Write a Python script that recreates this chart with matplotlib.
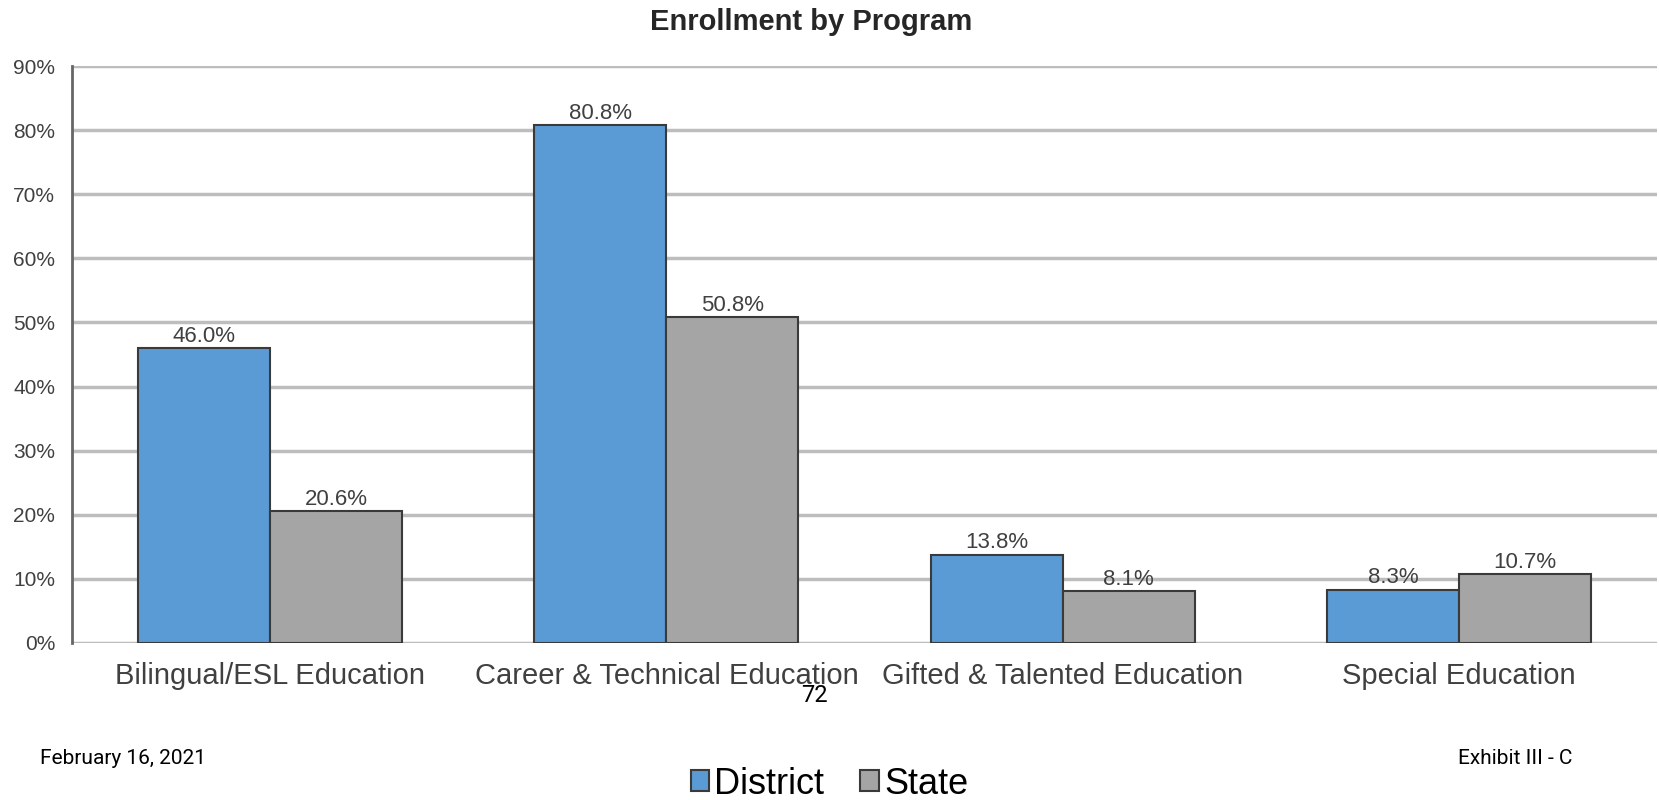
import numpy as np
import matplotlib as mpl
mpl.rcParams.update({'font.family': ['Liberation Sans', 'DejaVu Sans']})
import matplotlib.pyplot as plt

# data
programs = ['Bilingual/ESL Education', 'Career & Technical Education',
            'Gifted & Talented Education', 'Special Education']
district = [46.0, 80.8, 13.8, 8.3]
state = [20.6, 50.8, 8.1, 10.7]
yticks = [0, 10, 20, 30, 40, 50, 60, 70, 80, 90]

blue = '#5B9BD5'
grey = '#A5A5A5'
edge = '#3A3A3A'

fig = plt.figure(figsize=(16.59, 8), dpi=100)
ax = fig.add_axes([0.0434, 0.19625, 0.9554, 0.72125])

x = np.arange(len(programs))
w = 1 / 3
b1 = ax.bar(x - w / 2, district, w, color=blue, edgecolor=edge, linewidth=1.5,
            label='District', zorder=3)
b2 = ax.bar(x + w / 2, state, w, color=grey, edgecolor=edge, linewidth=1.5,
            label='State', zorder=3)

for bars, vals in [(b1, district), (b2, state)]:
    for r, v in zip(bars, vals):
        ax.annotate(f'{v:.1f}%', (r.get_x() + r.get_width() / 2, v),
                    xytext=(0, 1), textcoords='offset points',
                    ha='center', va='bottom', fontsize=16, color='#404040')

ax.set_xlim(-0.5, len(programs) - 0.5)
ax.set_ylim(0, 90)
ax.set_yticks(yticks)
ax.set_yticklabels([f'{t}%' for t in yticks])
ax.set_xticks(x)
ax.set_xticklabels(programs)
ax.tick_params(axis='y', length=0, pad=12, labelsize=15, labelcolor='#404040')
ax.tick_params(axis='x', length=0, pad=14, labelsize=21, labelcolor='#404040')
ax.grid(axis='y', color='#BDBDBD', linewidth=2.5, zorder=0)
for s in ['top', 'right', 'bottom']:
    ax.spines[s].set_visible(False)
ax.spines['left'].set_color('#666666')
ax.spines['left'].set_linewidth(2)

fig.text(0.489, 0.973, 'Enrollment by Program', ha='center', va='center',
         fontsize=21, fontweight='bold', color='#262626')

# page furniture from the source document
fig.text(0.491, 0.13, '72', ha='center', va='center', fontsize=17,
         family='Roboto')
fig.text(0.024, 0.0525, 'February 16, 2021', ha='left', va='center',
         fontsize=15, family='Roboto')
fig.text(0.948, 0.0525, 'Exhibit III - C', ha='right', va='center',
         fontsize=15, family='Roboto')

fig.legend(handles=[b1, b2], loc='center', bbox_to_anchor=(0.5, 0.02),
           ncol=2, frameon=False, fontsize=26, handlelength=0.5,
           handleheight=0.5, handletextpad=0.15, columnspacing=1.0,
           borderaxespad=0)

fig.savefig('out.png', dpi=100)
